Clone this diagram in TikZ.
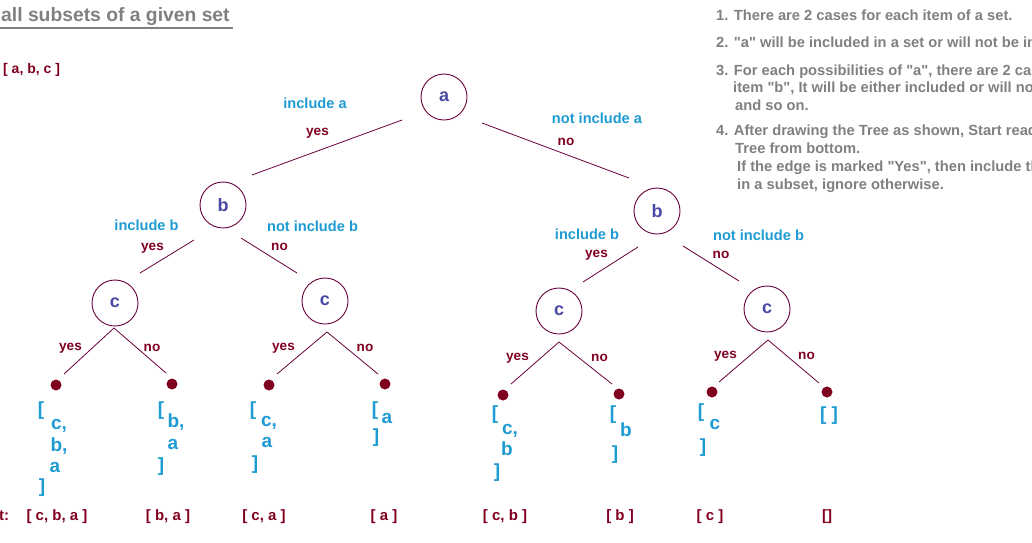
\documentclass[tikz,border=0pt]{standalone}
\usepackage{fontspec}
\setmainfont{Liberation Sans}[Ligatures=TeXOff]
\usetikzlibrary{calc}
\definecolor{cyanlbl}{RGB}{30,155,210}
\definecolor{darkred}{RGB}{128,0,32}
\definecolor{grayt}{RGB}{128,128,128}
\definecolor{letterblue}{RGB}{72,72,165}
\definecolor{edgecol}{RGB}{105,0,60}
\begin{document}
\begin{tikzpicture}[x=1pt,y=-1pt,
 treenode/.style={circle,draw=edgecol,line width=0.9pt,minimum size=46pt,inner sep=0pt,text=letterblue,font=\fontsize{18}{20}\selectfont\bfseries},
 leafdot/.style={circle,fill=darkred,minimum size=11pt,inner sep=0pt},
 edge/.style={draw=edgecol,line width=0.8pt},
 choice/.style={text=cyanlbl,font=\fontsize{14.6}{17}\selectfont\bfseries,inner sep=0pt,text height=10pt,text depth=3pt},
 answer/.style={text=darkred,font=\fontsize{13.6}{16}\selectfont\bfseries,inner sep=0pt,text height=9.5pt,text depth=2.8pt},
 subsetpart/.style={text=cyanlbl,font=\fontsize{19}{22}\selectfont\bfseries,inner sep=0pt,text height=13pt,text depth=4pt},
 result/.style={text=darkred,font=\fontsize{15}{18}\selectfont\bfseries,inner sep=0pt,text height=10.5pt,text depth=3pt},
 note/.style={text=grayt,font=\fontsize{14.7}{17}\selectfont\bfseries,inner sep=0pt,anchor=west,text height=10.5pt,text depth=1pt},
]
\useasboundingbox (0,0) rectangle (1032,542);
\clip (0,0) rectangle (1032,542);

% title
\node[text=grayt,font=\fontsize{19.3}{22}\selectfont\bfseries,inner sep=0pt,anchor=west,text height=14pt,text depth=4pt] (title) at (1,16) {all subsets of a given set};
\draw[grayt,line width=1.4pt] (0,28) -- (233,28);
\node[result,anchor=west,font=\fontsize{14}{17}\selectfont\bfseries] (set) at (3,70) {[ a, b, c ]};

% instructions
\node[note] (n1) at (716,16) {1. There are 2 cases for each item of a set.};
\node[note] (n2) at (716,43) {2. "a" will be included in a set or will not be in};
\node[note] (n3) at (716,71) {3. For each possibilities of "a", there are 2 cas};
\node[note] (n4) at (733,88) {item "b", It will be either included or will not};
\node[note] (n5) at (735,106) {and so on.};
\node[note] (n6) at (716,131) {4. After drawing the Tree as shown, Start read};
\node[note] (n7) at (735,149) {Tree from bottom.};
\node[note] (n8) at (737,167) {If the edge is marked "Yes", then include th};
\node[note] (n9) at (737,185) {in a subset, ignore otherwise.};

% tree nodes
\node[treenode] (a) at (444,97) {a};
\node[treenode] (bL) at (223,205) {b};
\node[treenode] (bR) at (657,211) {b};
\node[treenode] (c1) at (115,303) {c};
\node[treenode] (c2) at (325,301) {c};
\node[treenode] (c3) at (559,311) {c};
\node[treenode] (c4) at (767,309) {c};

\node[leafdot] (L1) at (56,385) {};
\node[leafdot] (L2) at (172,384) {};
\node[leafdot] (L3) at (269,385) {};
\node[leafdot] (L4) at (385,384) {};
\node[leafdot] (L5) at (503,395) {};
\node[leafdot] (L6) at (619,394) {};
\node[leafdot] (L7) at (712,392) {};
\node[leafdot] (L8) at (827,392) {};

% edges
\draw[edge] ($(a)+(-42,23)$) -- ($(bL)+(29,-30)$);
\draw[edge] ($(a)+(38,26)$) -- ($(bR)+(-28,-33)$);
\draw[edge] ($(bL)+(-29,35)$) -- ($(c1)+(25,-30)$);
\draw[edge] ($(bL)+(18,33)$) -- ($(c2)+(-28,-28)$);
\draw[edge] ($(bR)+(-19,36)$) -- ($(c3)+(24,-29)$);
\draw[edge] ($(bR)+(26,35)$) -- ($(c4)+(-28,-28)$);
\draw[edge] ($(c1)+(-1,25)$) -- ($(L1)+(8,-11)$);
\draw[edge] ($(c1)+(-1,25)$) -- ($(L2)+(-6,-11)$);
\draw[edge] ($(c2)+(2,31)$) -- ($(L3)+(8,-11)$);
\draw[edge] ($(c2)+(2,31)$) -- ($(L4)+(-7,-10)$);
\draw[edge] ($(c3)+(0,31)$) -- ($(L5)+(8,-11)$);
\draw[edge] ($(c3)+(0,31)$) -- ($(L6)+(-7,-10)$);
\draw[edge] ($(c4)+(1,31)$) -- ($(L7)+(7,-10)$);
\draw[edge] ($(c4)+(1,31)$) -- ($(L8)+(-8,-9)$);

% edge labels
\node[choice] (inca) at (315,105) {include a};
\node[answer] (ya) at (317.5,132) {yes};
\node[choice] (ninca) at (597,120) {not include a};
\node[answer] (na) at (566,142) {no};
\node[choice] (incbL) at (146.5,227) {include b};
\node[answer] (ybL) at (152.5,247) {yes};
\node[choice] (nincbL) at (312.5,228) {not include b};
\node[answer] (nbL) at (279.5,247) {no};
\node[choice] (incbR) at (587,236) {include b};
\node[answer] (ybR) at (596.5,254) {yes};
\node[choice] (nincbR) at (758.5,237) {not include b};
\node[answer] (nbR) at (721,255) {no};
\node[answer] (y1) at (70.5,347) {yes};
\node[answer] (n1l) at (152,348) {no};
\node[answer] (y2) at (283.5,347) {yes};
\node[answer] (n2l) at (365,348) {no};
\node[answer] (y3) at (517.5,357) {yes};
\node[answer] (n3l) at (599.5,358) {no};
\node[answer] (y4) at (725.5,355) {yes};
\node[answer] (n4l) at (806.5,356) {no};

% subsets under leaves
\node[subsetpart] (s1a) at (41,411) {[};
\node[subsetpart] (s1b) at (59,425) {c,};
\node[subsetpart] (s1c) at (59,447) {b,};
\node[subsetpart] (s1d) at (55,468) {a};
\node[subsetpart] (s1e) at (42,488) {]};

\node[subsetpart] (s2a) at (161,411) {[};
\node[subsetpart] (s2b) at (176,423) {b,};
\node[subsetpart] (s2c) at (173,445) {a};
\node[subsetpart] (s2d) at (161,467) {]};

\node[subsetpart] (s3a) at (253,411) {[};
\node[subsetpart] (s3b) at (269,422) {c,};
\node[subsetpart] (s3c) at (267,443) {a};
\node[subsetpart] (s3d) at (255,465) {]};

\node[subsetpart] (s4a) at (375,411) {[};
\node[subsetpart] (s4b) at (387,419) {a};
\node[subsetpart] (s4c) at (376,438) {]};

\node[subsetpart] (s5a) at (495,415) {[};
\node[subsetpart] (s5b) at (510,430) {c,};
\node[subsetpart] (s5c) at (507,451) {b};
\node[subsetpart] (s5d) at (497,473) {]};

\node[subsetpart] (s6a) at (613,415) {[};
\node[subsetpart] (s6b) at (626,432) {b};
\node[subsetpart] (s6c) at (615,455) {]};

\node[subsetpart] (s7a) at (701,413) {[};
\node[subsetpart] (s7b) at (715,425) {c};
\node[subsetpart] (s7c) at (703,448) {]};

\node[subsetpart] (s8a) at (829,416) {[ ]};

% results
\node[result,anchor=west] (rlbl) at (-1,517) {t:};
\node[result] (r1) at (57,517) {[ c, b, a ]};
\node[result] (r2) at (168,517) {[ b, a ]};
\node[result] (r3) at (264,517) {[ c, a ]};
\node[result] (r4) at (384,517) {[ a ]};
\node[result] (r5) at (505,517) {[ c, b ]};
\node[result] (r6) at (620,517) {[ b ]};
\node[result] (r7) at (710,517) {[ c ]};
\node[result] (r8) at (827,517) {[]};
\end{tikzpicture}
\end{document}
